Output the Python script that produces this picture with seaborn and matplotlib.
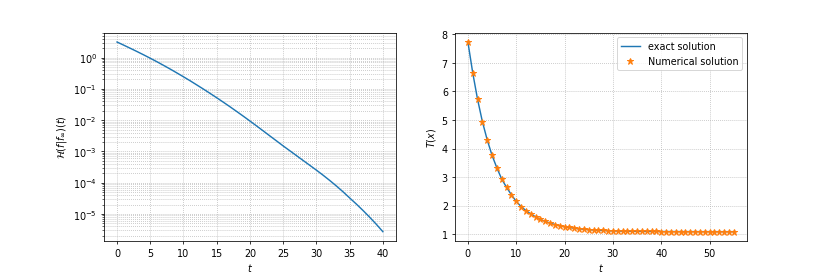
import numpy as np
import pandas as pd
import matplotlib
matplotlib.use("Agg")
import matplotlib.pyplot as plt
import seaborn as sns

# left panel: relative entropy H(f|f_inf)(t), log scale
t_entropy = list(range(41))
entropy = [3.162, 2.512, 1.991, 1.570, 1.230, 0.957, 0.740, 0.566, 0.431, 0.325,
           0.244, 0.182, 0.134, 0.0986, 0.0719, 0.0521, 0.0375, 0.0268, 0.0190, 0.0134,
           0.00938, 0.00653, 0.00453, 0.00313, 0.00217, 0.00150, 0.00105, 7.35e-4,
           5.14e-4, 3.60e-4, 2.52e-4, 1.74e-4, 1.18e-4, 7.87e-5, 5.13e-5, 3.26e-5,
           2.08e-5, 1.30e-5, 7.91e-6, 4.71e-6, 2.71e-6]

# right panel: T(x), exact vs numerical
t_num = list(range(56))
T_exact = [7.73, 6.65, 5.72, 4.94, 4.30, 3.76, 3.32, 2.93, 2.64, 2.38,
           2.15, 1.97, 1.83, 1.71, 1.61, 1.52, 1.45, 1.39, 1.34, 1.30,
           1.265, 1.236, 1.212, 1.192, 1.175, 1.161, 1.149, 1.139, 1.131, 1.124,
           1.119, 1.114, 1.110, 1.107, 1.104, 1.102, 1.100, 1.098, 1.097, 1.096,
           1.095, 1.094, 1.094, 1.093, 1.093, 1.092, 1.092, 1.092, 1.091, 1.091,
           1.091, 1.091, 1.090, 1.090, 1.090, 1.090]
T_numerical = list(T_exact)

df_h = pd.DataFrame({"t": t_entropy, "H": entropy})
df_T = pd.DataFrame({"t": t_num, "exact": T_exact, "num": T_numerical})

fig, (ax1, ax2) = plt.subplots(1, 2, figsize=(12, 4), dpi=830 / 12)
fig.subplots_adjust(bottom=0.126)

sns.lineplot(data=df_h, x="t", y="H", ax=ax1, color="C0", linewidth=1.5)
ax1.set_yscale("log")
ax1.grid(True, which="both", linestyle=":")
ax1.set_xlabel("$t$")
ax1.set_ylabel(r"$\mathcal{H}(f|f_\infty)(t)$")

sns.lineplot(data=df_T, x="t", y="exact", ax=ax2, color="C0", linewidth=1.5,
             label="exact solution")
ax2.plot(df_T["t"], df_T["num"], "*", color="C1", markersize=7,
         label="Numerical solution")
ax2.grid(True, linestyle=":")
ax2.set_xlabel("$t$")
ax2.set_ylabel("$T(x)$")
ax2.legend(loc="upper right")

fig.savefig("out.png", dpi=830 / 12)
